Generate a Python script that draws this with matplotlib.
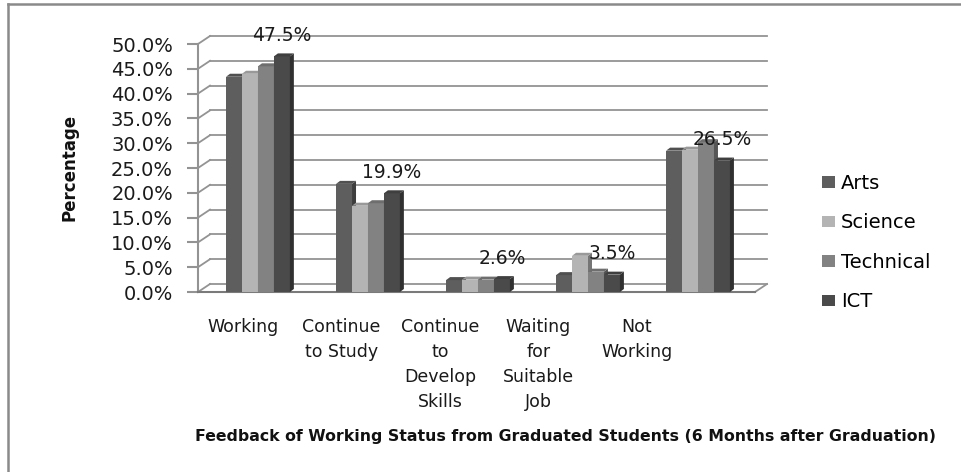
'''plot.py

Clustered 3D-style bar chart of graduate working status by field.
'''

import numpy as np
import matplotlib
matplotlib.use("Agg")
import matplotlib.pyplot as plt
from matplotlib.patches import Polygon
from matplotlib.colors import to_rgb

# Data
categories = ["Working", "Continue\nto Study", "Continue\nto\nDevelop\nSkills",
              "Waiting\nfor\nSuitable\nJob", "Not\nWorking"]
series = ["Arts", "Science", "Technical", "ICT"]
arts = [43.4, 21.8, 2.4, 3.4, 28.5]
science = [44.0, 17.4, 2.5, 7.3, 28.7]
technical = [45.5, 17.9, 2.5, 4.1, 30.2]
ict = [47.5, 19.9, 2.6, 3.5, 26.5]
values = [arts, science, technical, ict]
y_ticks = np.arange(0, 55, 5)

colors = ["#5e5e5e", "#b4b4b4", "#828282", "#4a4a4a"]

W, H = 961, 472


def fx(px):
    return px / W


def fy(py):
    return 1 - py / H


fig = plt.figure(figsize=(W / 100, H / 100), dpi=100)
ax = fig.add_axes([fx(198), fy(292), (755 - 198) / W, (292 - 44) / H])
x0, x1 = -0.545, 4.518
ax.set_xlim(x0, x1)
ax.set_ylim(0, 50)
pxu = (755 - 198) / (x1 - x0)   # pixels per x unit
pyu = (292 - 44) / 50           # pixels per percent

# back wall offset and bar depth
bdx, bdy = 12 / pxu, 8 / pyu
ddx, ddy = 4 / pxu, 3 / pyu
grid_col = "#939393"

# back wall gridlines + oblique connectors on the side wall
for v in y_ticks:
    ax.plot([x0 + bdx, x1 + bdx], [v + bdy, v + bdy], color=grid_col,
            lw=1.3, zorder=1, clip_on=False)
    ax.plot([x0, x0 + bdx], [v, v + bdy], color=grid_col, lw=1.3,
            zorder=1, clip_on=False)
# floor right edge
ax.plot([x1, x1 + bdx], [0, bdy], color=grid_col, lw=1.3, zorder=1, clip_on=False)

width = 0.145
idx = np.arange(len(categories))
handles = []
for s, (name, vals, col) in enumerate(zip(series, values, colors)):
    lefts = idx - 2 * width + s * width
    bars = ax.bar(lefts, vals, width=width, align="edge", color=col,
                  zorder=3 + 2 * s, label=name)
    handles.append(bars)
    side_col = tuple(c * 0.65 for c in to_rgb(col))
    top_col = tuple(c * 0.85 for c in to_rgb(col))
    for lx, h in zip(lefts, vals):
        rx = lx + width
        ax.add_patch(Polygon([(rx, 0), (rx + ddx, ddy), (rx + ddx, h + ddy), (rx, h)],
                             closed=True, color=side_col, zorder=4 + 2 * s, lw=0))
        ax.add_patch(Polygon([(lx, h), (lx + ddx, h + ddy), (rx + ddx, h + ddy), (rx, h)],
                             closed=True, color=top_col, zorder=4 + 2 * s, lw=0))

# data labels on the ICT series
ict_lefts = idx - 2 * width + 3 * width
for lx, h in zip(ict_lefts, ict):
    ax.annotate(f"{h:.1f}%", (lx + width / 2, h), xytext=(0, 15),
                textcoords="offset points", ha="center", va="center",
                fontsize=13.5, color="#1a1a1a", zorder=20)

# axes styling
for sp in ["top", "right"]:
    ax.spines[sp].set_visible(False)
ax.spines["left"].set_color(grid_col)
ax.spines["left"].set_linewidth(1.5)
ax.spines["bottom"].set_color("#7a7a7a")
ax.spines["bottom"].set_linewidth(1.5)
ax.patch.set_alpha(0)

ax.set_yticks(y_ticks)
ax.set_yticklabels([f"{v:.1f}%" for v in y_ticks])
ax.tick_params(axis="y", length=8, width=1.5, color=grid_col, pad=10,
               labelsize=14, labelcolor="#1a1a1a")

label_pos = -0.136 + 0.895 * idx
ax.set_xticks(label_pos)
ax.set_xticklabels(categories)
ax.tick_params(axis="x", length=0, pad=19, labelsize=12.5, labelcolor="#1a1a1a")
for lbl in ax.get_xticklabels():
    lbl.set_linespacing(1.48)
    lbl.set_verticalalignment("top")

ax.legend(handles=handles, labels=series, loc="upper left",
          bbox_to_anchor=(fx(822), fy(174)), bbox_transform=fig.transFigure,
          frameon=False, fontsize=14, labelspacing=1.05, handlelength=0.68,
          handleheight=0.52, handletextpad=0.3, borderpad=0, borderaxespad=0)

fig.text(fx(70), fy(167), "Percentage", rotation=90, ha="center", va="center",
         fontsize=12, fontweight="bold", color="#111111")
fig.text(fx(195), fy(436), "Feedback of Working Status from Graduated Students "
         "(6 Months after Graduation)", ha="left", va="center", fontsize=11.3,
         fontweight="bold", color="#111111")

# outer chart frame
fig.add_artist(plt.Line2D([fx(8), 1], [fy(3.5), fy(3.5)], color="#8a8a8a", lw=1.8))
fig.add_artist(plt.Line2D([fx(8), fx(8)], [fy(3.5), 0], color="#8a8a8a", lw=1.8))

fig.savefig("out.png", dpi=100)
